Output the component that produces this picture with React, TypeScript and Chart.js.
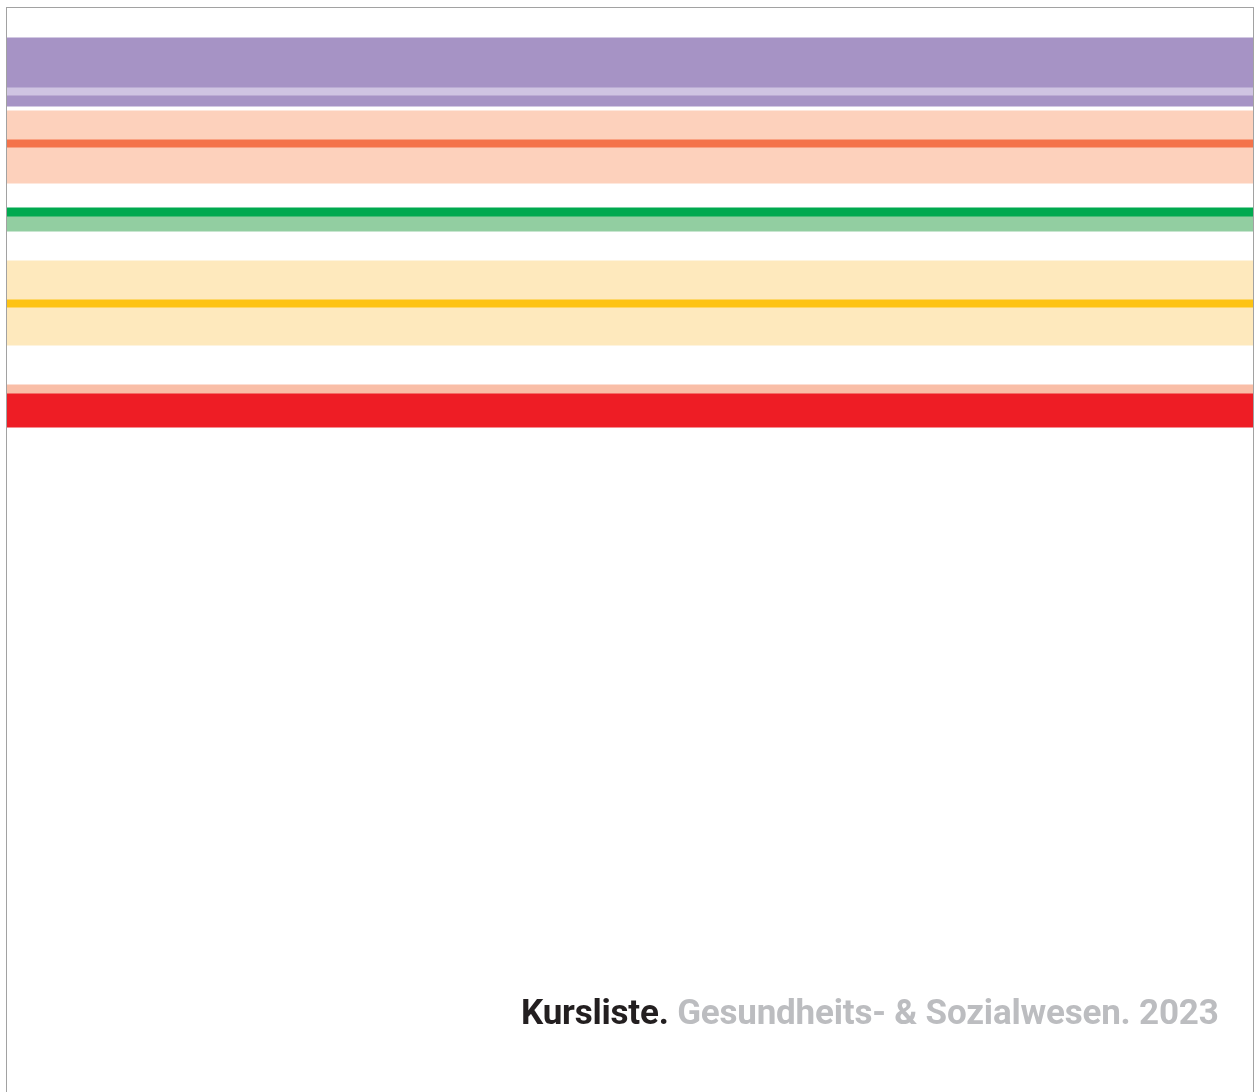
import React, { useEffect, useRef } from "react";
import { Chart, registerables } from "chart.js";

Chart.register(...registerables);

// Stacked bands, top to bottom (thickness in page units)
const bandNames = [
  "gap-top",
  "violett",
  "violett-hell",
  "violett-2",
  "gap-1",
  "pfirsich",
  "orange",
  "pfirsich-2",
  "gap-2",
  "gruen",
  "gruen-hell",
  "gap-3",
  "gelb-hell",
  "gelb",
  "gelb-hell-2",
  "gap-4",
  "lachs",
  "rot",
];
const bandHeights = [30, 49, 8, 11, 5, 28, 8, 36, 25, 8, 15, 30, 38, 8, 38, 40, 8, 34];
const bandColors = [
  "rgba(0,0,0,0)",
  "#A693C5",
  "#CFC4E2",
  "#A693C5",
  "rgba(0,0,0,0)",
  "#FDD1BC",
  "#F4734A",
  "#FDD1BC",
  "rgba(0,0,0,0)",
  "#00A94F",
  "#92CEA1",
  "rgba(0,0,0,0)",
  "#FEE9BD",
  "#FDC314",
  "#FEE9BD",
  "rgba(0,0,0,0)",
  "#F9BEA7",
  "#EE1D25",
];
const categories = ["Seite"];
const pageUnits = 1084;

const titleDark = "Kursliste.";
const titleLight = "Gesundheits- & Sozialwesen. 2023";

export default function App() {
  const canvasRef = useRef<HTMLCanvasElement | null>(null);

  useEffect(() => {
    const canvas = canvasRef.current;
    if (!canvas) return;
    const chart = new Chart(canvas, {
      type: "bar",
      data: {
        labels: categories,
        datasets: bandHeights.map((h, i) => ({
          label: bandNames[i],
          data: [h],
          backgroundColor: bandColors[i],
          borderWidth: 0,
          barPercentage: 1,
          categoryPercentage: 1,
          inflateAmount: 0.5,
        })),
      },
      options: {
        animation: false,
        responsive: false,
        devicePixelRatio: 1,
        layout: { padding: 0 },
        plugins: {
          legend: { display: false },
          tooltip: { enabled: false },
          title: { display: false },
        },
        scales: {
          x: { type: "category", stacked: true, display: false, offset: true },
          y: {
            type: "linear",
            stacked: true,
            display: false,
            reverse: true,
            min: 0,
            max: pageUnits,
          },
        },
      },
    });
    return () => chart.destroy();
  }, []);

  return (
    <div
      style={{
        position: "fixed",
        inset: 0,
        overflow: "hidden",
        background: "#ffffff",
      }}
    >
      <div
        style={{
          position: "absolute",
          left: 6,
          top: 7,
          width: 1246,
          height: 1100,
          border: "1px solid #A2A2A2",
          background: "#ffffff",
        }}
      >
        <canvas
          ref={canvasRef}
          width={1246}
          height={1084}
          style={{ display: "block", width: 1246, height: 1084 }}
        />
      </div>
      <div
        style={{
          position: "absolute",
          left: 521,
          top: 995,
          fontFamily: "Roboto, 'Noto Sans', sans-serif",
          fontWeight: 700,
          fontSize: 35,
          lineHeight: "35px",
          whiteSpace: "nowrap",
          letterSpacing: "-0.2px",
        }}
      >
        <span style={{ color: "#231F20" }}>{titleDark}</span>{" "}
        <span style={{ color: "#BCBDC0" }}>{titleLight}</span>
      </div>
    </div>
  );
}
